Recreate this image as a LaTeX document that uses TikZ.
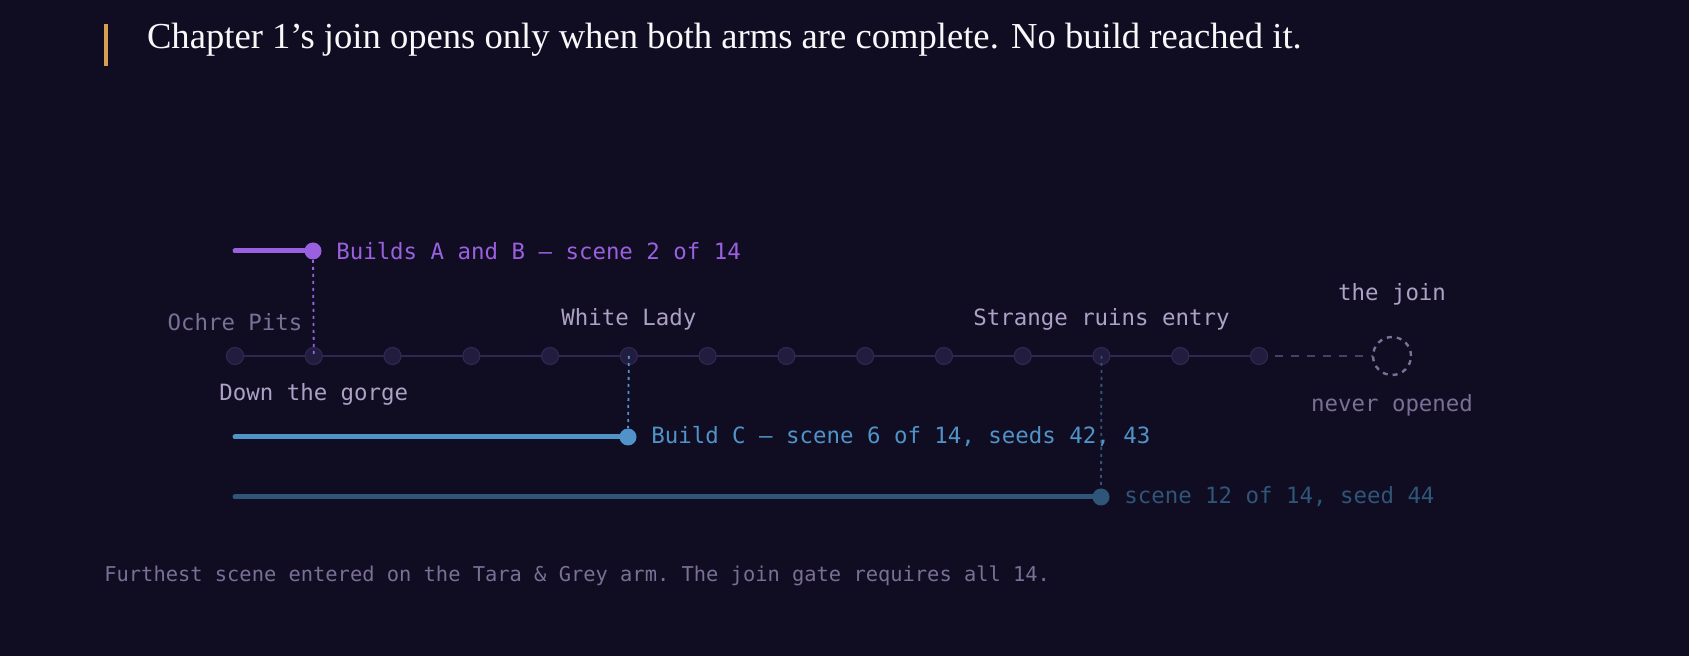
\documentclass[tikz,border=0pt]{standalone}
\usepackage{fontspec}
\setmainfont{Liberation Serif}
\setmonofont{DejaVu Sans Mono}
\usetikzlibrary{positioning}
\definecolor{bgdark}{HTML}{100D22}
\definecolor{buildab}{HTML}{9A60E0}
\definecolor{buildc}{HTML}{4F93C8}
\definecolor{buildd}{HTML}{2F5578}
\definecolor{lbl}{HTML}{ADA2C6}
\definecolor{dimlbl}{HTML}{7A6F95}
\definecolor{scenefill}{HTML}{221C3E}
\definecolor{scenedraw}{HTML}{2F2752}
\definecolor{amber}{HTML}{D4A050}
\tikzset{
  scene/.style={circle, fill=scenefill, draw=scenedraw, line width=0.6pt, minimum size=8.5pt, inner sep=0pt},
  tip/.style={circle, fill=#1, inner sep=0pt, minimum size=8.5pt},
  arm/.style={line width=2.5pt, line cap=round, #1},
  drop/.style={dash pattern=on 1.5pt off 2pt, line width=0.9pt, #1},
  lab/.style={font=\ttfamily\fontsize{11.2}{13}\selectfont, text=#1, inner sep=1pt}
}
\begin{document}
\begin{tikzpicture}[x=0.5pt, y=-0.5pt]
	\fill[bgdark] (0,0) rectangle (1689,656);
	\useasboundingbox (0,0) rectangle (1689,656);
	\fill[amber] (104,24) rectangle (107.5,66);
	\node[anchor=west, text=white!92!lbl, font=\fontsize{18.3}{22}\selectfont] (title) at (140,40) {Chapter 1’s join opens only when both arms are complete. No build reached it.};
	%% track of 14 scenes
	\draw[scenedraw, line width=1.2pt] (235,356) -- (1259,356);
	\draw[scenedraw!80!lbl, line width=1.2pt, dash pattern=on 4pt off 4pt] (1259,356) -- (1373,356);
	\foreach \i in {1,...,14}
		\node[scene] (s\i) at ({235+(\i-1)*78.77},356) {};
	\node[circle, draw=dimlbl, dash pattern=on 2.5pt off 2.5pt, line width=1.2pt, minimum size=19pt] (join) at (1392,356) {};
	\node[lab=lbl, above=14pt of join] (jointxt) {the join};
	\node[lab=dimlbl, below=8pt of join] (never) {never opened};
	%% scene labels
	\node[lab=dimlbl, above=7pt of s1] (ochre) {Ochre Pits};
	\node[lab=lbl, below=8pt of s2] (gorge) {Down the gorge};
	\node[lab=lbl, above=7pt of s6] (lady) {White Lady};
	\node[lab=lbl, above=7pt of s12] (ruins) {Strange ruins entry};
	%% arms
	\coordinate (a1) at (235,251);
	\coordinate (c1) at (235,437);
	\coordinate (d1) at (235,497);
	\node[tip=buildab] (ab) at (313,251) {};
	\node[tip=buildc] (c) at (628,437) {};
	\node[tip=buildd] (d) at (1101,497) {};
	\draw[arm=buildab] (a1) -- (ab);
	\draw[arm=buildc] (c1) -- (c);
	\draw[arm=buildd] (d1) -- (d);
	\draw[drop=buildab] (ab) -- (s2.center);
	\draw[drop=buildc] (s6.center) -- (c);
	\draw[drop=buildd] (s12.center) -- (d);
	\node[lab=buildab, right=6pt of ab] (abtxt) {Builds A and B — scene 2 of 14};
	\node[lab=buildc, right=6pt of c] (ctxt) {Build C — scene 6 of 14, seeds 42, 43};
	\node[lab=buildd, right=6pt of d] (dtxt) {scene 12 of 14, seed 44};
	\node[lab=dimlbl, anchor=west, font=\ttfamily\fontsize{10.2}{12}\selectfont] (foot) at (102,576) {Furthest scene entered on the Tara \& Grey arm. The join gate requires all 14.};
\end{tikzpicture}
\end{document}
